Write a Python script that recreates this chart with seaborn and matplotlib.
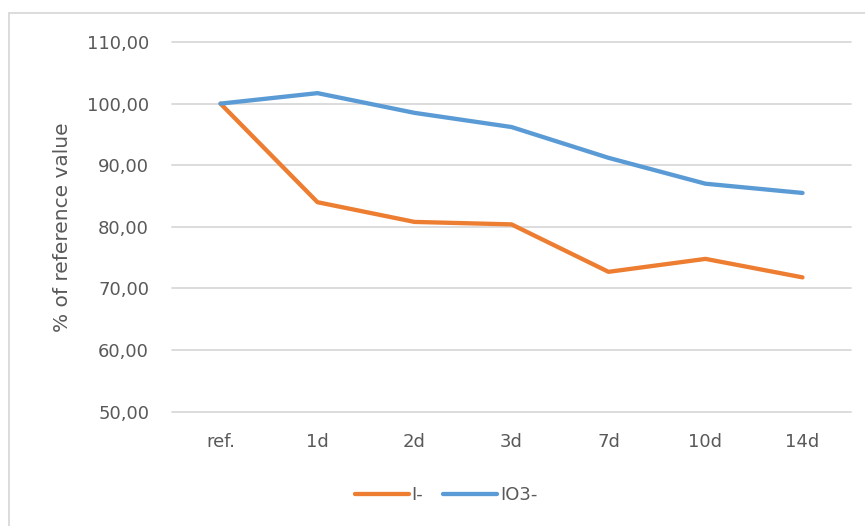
import matplotlib
matplotlib.use("Agg")
import matplotlib.pyplot as plt
import seaborn as sns
import pandas as pd
from matplotlib.patches import Rectangle
from matplotlib.ticker import FuncFormatter
from matplotlib.lines import Line2D

categories = ["ref.", "1d", "2d", "3d", "7d", "10d", "14d"]
i_minus = [100.0, 84.0, 80.8, 80.4, 72.7, 74.8, 71.8]
io3_minus = [100.0, 101.7, 98.5, 96.2, 91.2, 87.0, 85.5]
series_names = ["I-", "IO3-"]
y_ticks = [50, 60, 70, 80, 90, 100, 110]

df = pd.DataFrame({
    "time": categories * 2,
    "value": i_minus + io3_minus,
    "series": [series_names[0]] * len(categories) + [series_names[1]] * len(categories),
})
df["pos"] = list(range(len(categories))) * 2

sns.set_theme(style="white")
plt.rcParams["font.family"] = ["DejaVu Sans"]

fig = plt.figure(figsize=(8.65, 5.26), dpi=100)
ax = fig.add_axes([172 / 865, 1 - 411.7 / 526, (851 - 172) / 865, (411.7 - 42) / 526])

palette = {"I-": "#ED7D31", "IO3-": "#5B9BD5"}
lw = 3.1
sns.lineplot(data=df, x="pos", y="value", hue="series", palette=palette,
             linewidth=lw, ax=ax, legend=False, solid_capstyle="round",
             solid_joinstyle="round")

ax.set_xlim(-0.5, len(categories) - 0.5)
ax.set_ylim(50, 110)
ax.set_yticks(y_ticks)
ax.yaxis.set_major_formatter(FuncFormatter(lambda v, p: f"{v:.2f}".replace(".", ",")))
ax.set_xticks(range(len(categories)))
ax.set_xticklabels(categories)
ax.grid(axis="y", color="#D9D9D9", linewidth=1.3)
ax.grid(axis="x", visible=False)
ax.set_axisbelow(True)
for gl in ax.get_ygridlines():
    gl.set_clip_on(False)
for s in ax.spines.values():
    s.set_visible(False)
ax.tick_params(axis="both", length=0, colors="#595959", labelsize=13)
ax.tick_params(axis="y", pad=16.5)
ax.tick_params(axis="x", pad=15)
ax.set_xlabel("")
ax.set_ylabel("% of reference value", color="#595959", fontsize=14.5)
ax.yaxis.set_label_coords((72 - 172) / (851 - 172), 0.5)

handles = [Line2D([], [], color=palette[n], linewidth=lw, solid_capstyle="round") for n in series_names]
leg = fig.legend(handles, series_names, loc="center", bbox_to_anchor=(446 / 865, 1 - 495 / 526),
                 ncol=2, frameon=False, fontsize=13, handlelength=3.0, handletextpad=0.15,
                 columnspacing=1.1)
for t in leg.get_texts():
    t.set_color("#595959")

fig.patches.append(Rectangle((8.5 / 865, -0.1), 1.2, 1 - 12.5 / 526 + 0.1,
                             transform=fig.transFigure, fill=False,
                             edgecolor="#D9D9D9", linewidth=1.3))

fig.savefig("out.png", dpi=100)
